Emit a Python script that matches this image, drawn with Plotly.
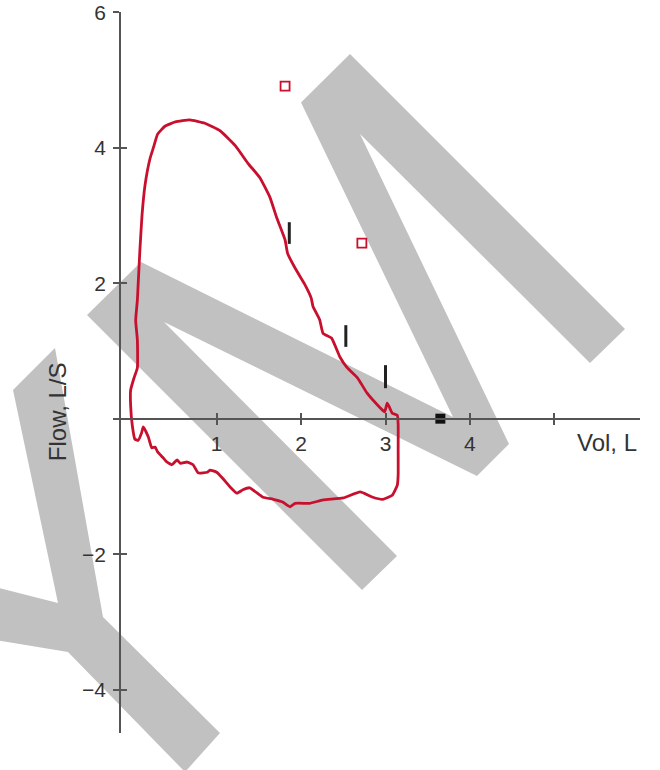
import plotly.graph_objects as go

# ---------------- data ----------------
vol_loop = [0.00, -0.02, -0.02, 0.02, 0.06, 0.06, 0.04, 0.06, 0.07, 0.09, 0.115, 0.15, 0.21, 0.25,
            0.30, 0.39, 0.51, 0.68, 0.86, 1.04, 1.22, 1.37, 1.51, 1.63, 1.71, 1.81, 1.84, 1.93,
            2.04, 2.12, 2.14, 2.22, 2.26, 2.36, 2.46, 2.54, 2.67, 2.78, 2.93, 2.99, 3.02, 3.05,
            3.08, 3.14, 3.15, 3.15, 3.15, 3.14, 3.08, 2.97, 2.85, 2.70, 2.50, 2.26, 2.10, 1.93,
            1.87, 1.78, 1.67, 1.55, 1.39, 1.31, 1.24, 1.16, 1.07, 1.00, 0.92, 0.89, 0.78, 0.72,
            0.65, 0.57, 0.53, 0.47, 0.41, 0.36, 0.30, 0.27, 0.23, 0.19, 0.13, 0.11, 0.07, 0.03, 0.00]
flow_loop = [-0.10, 0.20, 0.42, 0.60, 0.75, 1.16, 1.45, 1.75, 2.00, 2.49, 3.00, 3.44, 3.84, 4.00,
             4.20, 4.32, 4.38, 4.41, 4.36, 4.25, 4.03, 3.77, 3.56, 3.27, 2.97, 2.64, 2.44, 2.22,
             1.99, 1.78, 1.66, 1.46, 1.26, 1.19, 0.91, 0.76, 0.60, 0.38, 0.17, 0.10, 0.23, 0.16,
             0.08, 0.05, -0.09, -0.46, -0.83, -0.98, -1.13, -1.19, -1.16, -1.08, -1.17, -1.20, -1.25, -1.25,
             -1.30, -1.23, -1.19, -1.16, -1.02, -1.05, -1.10, -1.01, -0.88, -0.79, -0.76, -0.79, -0.80, -0.68,
             -0.64, -0.66, -0.61, -0.68, -0.64, -0.57, -0.49, -0.42, -0.43, -0.27, -0.12, -0.21, -0.32, -0.30, -0.10]

pred_vol = [1.81, 2.72]
pred_flow = [4.91, 2.59]

rv_vol = [3.65]
rv_flow = [0.0]

bar_vol = [1.86, 2.53, 3.00]
bar_low = [2.58, 1.06, 0.45]
bar_high = [2.90, 1.38, 0.79]

x_tickvals = [1, 2, 3, 4, 5]
x_ticktext = ["1", "2", "3", "4", ""]
y_tickvals = [-4, -2, 0, 2, 4, 6]
y_ticktext = ["\u22124", "\u22122", "", "2", "4", "6"]

# ---------------- layout geometry ----------------
OFF = 0                      # body margin removed by post_script
W, H = 660, 770
ML, MT = 113 - OFF, 12 - OFF
MR, MB = W - (640 - OFF), H - (733 - OFF)
XR = [-0.2287, 6.0154]
YR = [-4.64, 6.003]
pw, ph = W - ML - MR, H - MT - MB
x_axis_pos = (0 - YR[0]) / (YR[1] - YR[0])
y_axis_pos = (120 - 113) / pw

RED = "#c8102e"
AX = "#555555"
TXT = "#333333"
FONT = "Liberation Sans, Arial, sans-serif"
TICK_SIZE = 21

# watermark outlines (pixel positions in the page)
wm_M = [(87, 315), (141, 262), (453, 417), (301, 102.5), (350, 54), (625, 329), (590, 363),
        (360, 134), (509, 444), (477, 476), (164, 322), (397, 556), (362, 590)]
wm_Y = [(13, 390), (55, 348), (103, 617), (220, 733), (185, 772), (68, 652), (-5, 640),
        (-5, 587), (58, 603)]


def px_to_paper(px, py):
    return (px - OFF - ML) / pw, (H - MB - (py - OFF)) / ph


def to_path(pts):
    segs = []
    for i, (px, py) in enumerate(pts):
        xp, yp = px_to_paper(px, py)
        segs.append(("M" if i == 0 else "L") + f"{xp:.5f},{yp:.5f}")
    return " ".join(segs) + " Z"


bx, by = [], []
for v, lo, hi in zip(bar_vol, bar_low, bar_high):
    bx += [v, v, None]
    by += [lo, hi, None]

fig = go.Figure()
fig.add_trace(go.Scatter(x=vol_loop, y=flow_loop, mode="lines",
                         line=dict(color=RED, width=2.8, shape="spline", smoothing=0.4),
                         hoverinfo="skip", showlegend=False))
fig.add_trace(go.Scatter(x=bx, y=by, mode="lines", line=dict(color="#222222", width=3),
                         hoverinfo="skip", showlegend=False))
fig.add_trace(go.Scatter(x=pred_vol, y=pred_flow, mode="markers",
                         marker=dict(symbol="square-open", size=9, color=RED, line=dict(width=1.8)),
                         hoverinfo="skip", showlegend=False))
fig.add_trace(go.Scatter(x=rv_vol, y=rv_flow, mode="markers",
                         marker=dict(symbol="square", size=10, color="#111111"),
                         hoverinfo="skip", showlegend=False))
# dummy trace on overlay axes (for crossing tick marks)
fig.add_trace(go.Scatter(x=[None], y=[None], xaxis="x2", yaxis="y2", mode="markers",
                         hoverinfo="skip", showlegend=False))

common_x = dict(range=XR, showgrid=False, zeroline=False, anchor="free", position=x_axis_pos,
                tickvals=x_tickvals, ticklen=6, tickwidth=1.5, tickcolor=AX, fixedrange=True,
                automargin=False)
common_y = dict(range=YR, showgrid=False, zeroline=False, anchor="free", position=y_axis_pos,
                tickvals=y_tickvals, ticklen=6, tickwidth=1.5, tickcolor=AX, fixedrange=True,
                automargin=False)

fx, fy = px_to_paper(57.5, 411.7)

fig.update_layout(
    width=W, height=H,
    margin=dict(l=ML, r=MR, t=MT, b=MB, autoexpand=False),
    paper_bgcolor="white", plot_bgcolor="rgba(0,0,0,0)",
    font=dict(family=FONT, color=TXT, size=19),
    xaxis=dict(**common_x, ticks="outside", ticktext=x_ticktext, showline=True,
               linecolor=AX, linewidth=1.5, tickfont=dict(size=TICK_SIZE, color=TXT)),
    yaxis=dict(**common_y, ticks="outside", ticktext=y_ticktext, showline=True,
               linecolor=AX, linewidth=1.5, tickfont=dict(size=TICK_SIZE, color=TXT),
               ticklabelstandoff=3),
    xaxis2=dict(**common_x, overlaying="x", ticks="inside", showticklabels=False, showline=False),
    yaxis2=dict(**common_y, overlaying="y", ticks="inside", showticklabels=False, showline=False),
    shapes=[
        dict(type="path", xref="paper", yref="paper", path=to_path(wm_M),
             fillcolor="#c1c1c1", line=dict(width=0), layer="below"),
        dict(type="path", xref="paper", yref="paper", path=to_path(wm_Y),
             fillcolor="#c1c1c1", line=dict(width=0), layer="below"),
    ],
    annotations=[
        dict(text="Vol, L", xref="x", yref="y", x=5.245, y=-0.345, xanchor="left",
             yanchor="middle", showarrow=False, font=dict(size=24, color=TXT)),
        dict(text="Flow, L/S", xref="paper", yref="paper", x=fx, y=fy,
             textangle=-90, xanchor="center", yanchor="middle",
             showarrow=False, font=dict(size=24, color=TXT)),
    ],
)

fig.write_html("out.html", config={"displayModeBar": False},
               post_script="document.body.style.margin='0';")
